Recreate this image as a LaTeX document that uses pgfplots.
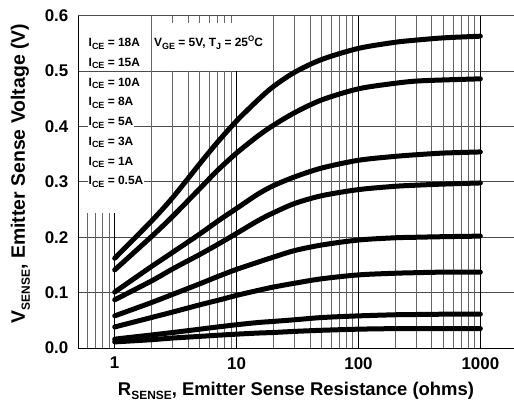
\documentclass[border=0pt]{standalone}
\usepackage{pgfplots}
\usepackage{pgfplotstable}
\usepackage{fontspec}
\setmainfont{Liberation Sans}
\pgfplotsset{compat=1.18}

% subscripts for the labels inside the plot and for the axis titles
\newcommand{\lsub}[1]{\raisebox{-0.2em}{\fontsize{9}{9}\selectfont #1}}
\newcommand{\asub}[1]{\raisebox{-0.25em}{\fontsize{12}{12}\selectfont #1}}

% V_SENSE against R_SENSE, one column for each collector current
\pgfplotstableread{
R     c18    c15    c10    c8     c5     c3     c1      c05
1     0.162  0.141  0.101  0.087  0.058  0.038  0.016   0.011
2     0.229  0.201  0.147  0.121  0.082  0.055  0.0235  0.015
3     0.272  0.238  0.173  0.143  0.097  0.065  0.028   0.018
5     0.333  0.288  0.206  0.169  0.116  0.078  0.034   0.021
7     0.372  0.321  0.229  0.187  0.129  0.086  0.038   0.023
10    0.410  0.352  0.252  0.207  0.142  0.095  0.042   0.025
15    0.448  0.383  0.278  0.230  0.155  0.104  0.046   0.027
20    0.472  0.402  0.293  0.244  0.164  0.110  0.048   0.028
30    0.498  0.425  0.309  0.261  0.176  0.117  0.051   0.030
50    0.521  0.448  0.325  0.275  0.186  0.125  0.055   0.032
100   0.541  0.468  0.339  0.286  0.195  0.132  0.058   0.034
200   0.552  0.478  0.346  0.292  0.199  0.135  0.060   0.035
300   0.556  0.482  0.349  0.294  0.200  0.136  0.0605  0.035
500   0.560  0.484  0.352  0.296  0.201  0.137  0.061   0.035
1000  0.563  0.486  0.354  0.298  0.202  0.137  0.061   0.035
}\vsense

\tikzset{
  mgrid/.style={black!60, line width=0.8bp},
  Mgrid/.style={black, line width=0.8bp},
  curve/.style={black, line width=5bp, line cap=round, smooth, no markers},
  lbl/.style={font=\fontsize{12}{14}\selectfont\bfseries, inner sep=0.5pt, fill=white},
}

\begin{document}
\begin{tikzpicture}
\path[use as bounding box] (-78bp,-57bp) rectangle (436bp,348bp);
\begin{axis}[
  scale only axis, width=436bp, height=332.3bp,
  xmode=log, xmin=0.5, xmax=1888, ymin=0, ymax=0.6,
  axis lines=left, axis line style={-, line width=0.8bp, black},
  xtick={1,10,100,1000}, xticklabels={1,10,100,1000},
  ytick={0,0.1,0.2,0.3,0.4,0.5,0.6},
  major tick length=0pt, minor tick length=0pt,
  ymajorgrids, major grid style={black!70, line width=0.8bp},
  /pgf/number format/fixed, /pgf/number format/fixed zerofill,
  /pgf/number format/precision=1,
  /pgf/number format/assume math mode=true,
  tick label style={font=\fontsize{17}{20}\selectfont\bfseries},
  xticklabel style={inner sep=0pt, yshift=-9bp},
  yticklabel style={inner sep=0pt, xshift=-9.5bp},
]
% vertical grid, cut short where the text sits
\pgfplotsinvokeforeach{0.6,0.7,0.8,0.9}{\draw[mgrid] (axis cs:#1,0) -- (axis cs:#1,0.243);}
\draw[Mgrid] (axis cs:1,0) -- (axis cs:1,0.243);
\draw[mgrid] (axis cs:2,0) -- (axis cs:2,0.6);
\pgfplotsinvokeforeach{3,4,5,6,7,8,9}{
  \draw[mgrid] (axis cs:#1,0) -- (axis cs:#1,0.5);
  \draw[mgrid] (axis cs:#1,0.6) -- (axis cs:#1,0.586);
}
\draw[Mgrid] (axis cs:10,0) -- (axis cs:10,0.5);
\pgfplotsinvokeforeach{20,30,40,50,60,70,80,90,200,300,400,500,600,700,800,900}{
  \draw[mgrid] (axis cs:#1,0) -- (axis cs:#1,0.6);
}
\draw[Mgrid] (axis cs:100,0) -- (axis cs:100,0.6);
\draw[Mgrid] (axis cs:1000,0) -- (axis cs:1000,0.6);

\addplot[curve] table[x=R, y=c18] {\vsense};
\addplot[curve] table[x=R, y=c15] {\vsense};
\addplot[curve] table[x=R, y=c10] {\vsense};
\addplot[curve] table[x=R, y=c8]  {\vsense};
\addplot[curve] table[x=R, y=c5]  {\vsense};
\addplot[curve] table[x=R, y=c3]  {\vsense};
\addplot[curve] table[x=R, y=c1]  {\vsense};
\addplot[curve] table[x=R, y=c05] {\vsense};
\end{axis}

\node[lbl, anchor=base west] at (10bp,301.3bp) {I\lsub{CE} = 18A};
\node[lbl, anchor=base west] at (10bp,281.55bp) {I\lsub{CE} = 15A};
\node[lbl, anchor=base west] at (10bp,261.8bp) {I\lsub{CE} = 10A};
\node[lbl, anchor=base west] at (10bp,242.05bp) {I\lsub{CE} = 8A};
\node[lbl, anchor=base west] at (10bp,222.3bp) {I\lsub{CE} = 5A};
\node[lbl, anchor=base west] at (10bp,202.55bp) {I\lsub{CE} = 3A};
\node[lbl, anchor=base west] at (10bp,182.8bp) {I\lsub{CE} = 1A};
\node[lbl, anchor=base west] at (10bp,163.05bp) {I\lsub{CE} = 0.5A};
\node[lbl, anchor=base west] at (75.5bp,301.3bp)
  {V\lsub{GE} = 5V, T\lsub{J} = 25\raisebox{0.42em}{\fontsize{8}{8}\selectfont O}C};

\node[anchor=base, font=\fontsize{18.5}{22}\selectfont\bfseries] at (218bp,-47bp)
  {R\asub{SENSE}, Emitter Sense Resistance (ohms)};
\node[anchor=base, rotate=90, font=\fontsize{19.5}{23}\selectfont\bfseries] at (-53bp,174.5bp)
  {V\asub{SENSE}, Emitter Sense Voltage (V)};
\end{tikzpicture}
\end{document}
